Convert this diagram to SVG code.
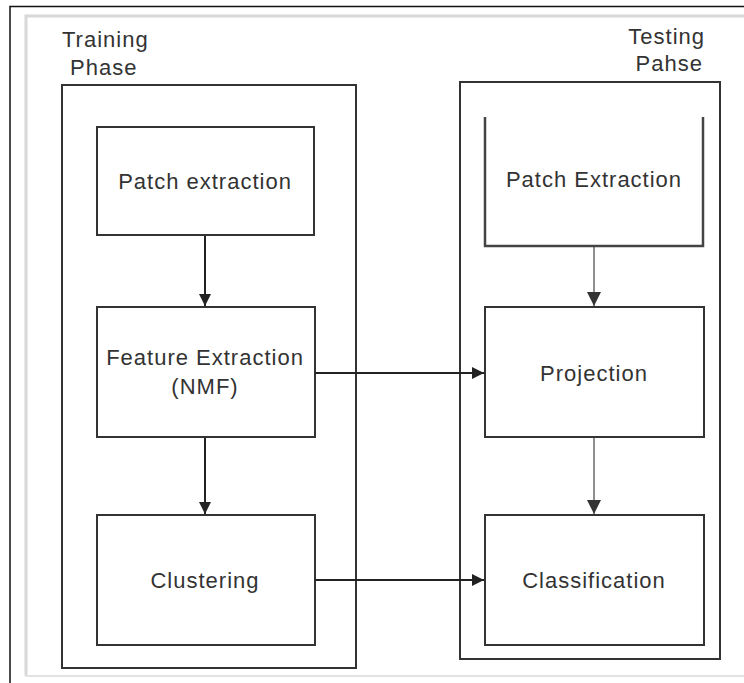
<svg xmlns="http://www.w3.org/2000/svg" width="744" height="683" viewBox="0 0 744 683">
  <defs>
    <marker id="ah" viewBox="0 0 10 10" refX="10" refY="5" markerWidth="6" markerHeight="6" markerUnits="strokeWidth" orient="auto">
      <path d="M0,0 L10,5 L0,10 Z" fill="#222"/>
    </marker>
    <marker id="ahs" viewBox="0 0 10 10" refX="10" refY="5" markerWidth="12" markerHeight="12" markerUnits="strokeWidth" orient="auto">
      <path d="M0,0 L10,5 L0,10 Z" fill="#333"/>
    </marker>
  </defs>
  <style>
    .frame { fill: none; stroke: #333; stroke-width: 2; }
    .box { fill: #fff; stroke: #333; stroke-width: 2; }
    .lbl { font-family: "Liberation Sans", Arial, sans-serif; font-size: 22px; fill: #333; letter-spacing: 1px; }
    .thick { stroke: #222; stroke-width: 2; fill: none; }
    .thin { stroke: #444; stroke-width: 1.2; fill: none; }
  </style>
  <rect width="744" height="683" fill="#fff"/>
  <!-- outer border -->
  <path d="M10,683 L10,6.5 L744,6.5" fill="none" stroke="#111" stroke-width="1.5"/>
  <path d="M26,676 L26,16 L744,16" fill="none" stroke="#d8d8d8" stroke-width="3"/>
  <path d="M26,676 L744,676" fill="none" stroke="#e2e2e2" stroke-width="2"/>

  <g id="training-phase">
    <rect class="frame" x="62" y="85" width="294" height="583"/>
    <text class="lbl" x="62" y="47">Training</text>
    <text class="lbl" x="70" y="75">Phase</text>
  </g>
  <g id="testing-phase">
    <rect class="frame" x="460" y="82" width="260" height="577"/>
    <text class="lbl" x="705" y="44" text-anchor="end">Testing</text>
    <text class="lbl" x="703" y="71" text-anchor="end">Pahse</text>
  </g>

  <g id="patch-extraction-train">
    <rect class="box" x="97" y="127" width="217" height="108"/>
    <text class="lbl" x="205" y="189" text-anchor="middle">Patch extraction</text>
  </g>
  <g id="feature-extraction">
    <rect class="box" x="97" y="307" width="218" height="130"/>
    <text class="lbl" x="205" y="365" text-anchor="middle">Feature Extraction</text>
    <text class="lbl" x="205" y="394" text-anchor="middle">(NMF)</text>
  </g>
  <g id="clustering">
    <rect class="box" x="97" y="515" width="218" height="130"/>
    <text class="lbl" x="205" y="588" text-anchor="middle">Clustering</text>
  </g>

  <g id="patch-extraction-test">
    <path d="M485,117 L485,246 L703,246 L703,117" fill="none" stroke="#444" stroke-width="2.5"/>
    <text class="lbl" x="594" y="187" text-anchor="middle">Patch Extraction</text>
  </g>
  <g id="projection">
    <rect class="box" x="485" y="307" width="219" height="130"/>
    <text class="lbl" x="594" y="381" text-anchor="middle">Projection</text>
  </g>
  <g id="classification">
    <rect class="box" x="485" y="515" width="219" height="130"/>
    <text class="lbl" x="594" y="588" text-anchor="middle">Classification</text>
  </g>

  <g id="connectors">
    <line class="thick" x1="205" y1="236" x2="205" y2="306" marker-end="url(#ah)"/>
    <line class="thick" x1="205" y1="438" x2="205" y2="514" marker-end="url(#ah)"/>
    <line class="thick" x1="315" y1="373" x2="484" y2="373" marker-end="url(#ah)"/>
    <line class="thick" x1="315" y1="580" x2="484" y2="580" marker-end="url(#ah)"/>
    <line class="thin" x1="594" y1="247" x2="594" y2="306" marker-end="url(#ahs)"/>
    <line class="thin" x1="594" y1="438" x2="594" y2="514" marker-end="url(#ahs)"/>
  </g>
</svg>
